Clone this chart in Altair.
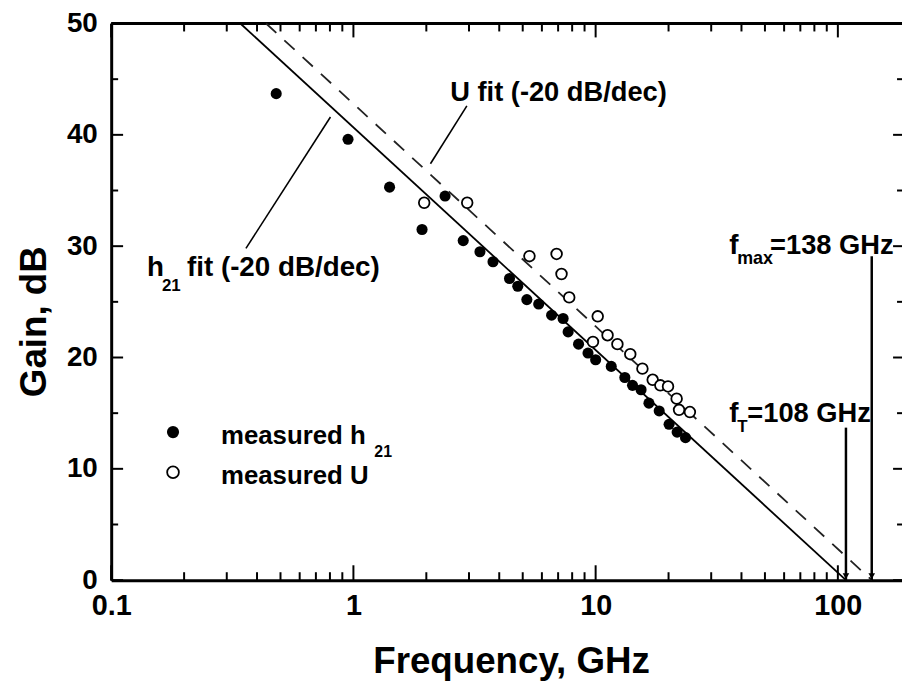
import altair as alt
import pandas as pd

# ---------------- data ----------------
h21_freq = [0.48, 0.95, 1.41, 1.92, 2.39, 2.84, 3.33, 3.77, 4.41, 4.77, 5.2, 5.82,
            6.58, 7.34, 7.7, 8.5, 9.3, 10.0, 11.6, 13.2, 14.2, 15.4, 16.6, 18.3,
            20.1, 21.7, 23.5]
h21_gain = [43.7, 39.6, 35.3, 31.5, 34.5, 30.5, 29.5, 28.6, 27.1, 26.4, 25.2, 24.8,
            23.8, 23.5, 22.3, 21.2, 20.4, 19.8, 19.2, 18.2, 17.5, 17.1, 15.9, 15.2,
            14.0, 13.3, 12.8]

u_freq = [1.96, 2.95, 5.33, 6.9, 7.23, 7.78, 9.75, 10.2, 11.2, 12.3, 13.9, 15.6,
          17.2, 18.5, 19.9, 21.6, 22.1, 24.5]
u_gain = [33.9, 33.9, 29.1, 29.3, 27.5, 25.4, 21.4, 23.7, 22.0, 21.2, 20.3, 19.0,
          18.0, 17.5, 17.4, 16.3, 15.3, 15.1]

# -20 dB/dec fits (end points)
h21_fit_freq = [0.3415, 108]
h21_fit_gain = [50, 0]
u_fit_freq = [0.436, 138]
u_fit_gain = [50, 0]

# fT / fmax arrows
arrow_freq = [108, 138]
arrow_top = [13.7, 29.1]

# axis ticks
x_major = [0.1, 1, 10, 100]
x_minor = [m * d for d in (0.1, 1, 10) for m in range(2, 10)]
y_major = [0, 10, 20, 30, 40, 50]
y_minor = [5, 15, 25, 35, 45]

# ---------------- layout ----------------
W, H = 797, 561
FONT = "Liberation Sans"
XDOM = [0.1, 184]
xs = alt.Scale(type="log", domain=XDOM, nice=False)
ys = alt.Scale(domain=[0, 50], nice=False, zero=False)

def X(field="f", **kw):
    return alt.X(f"{field}:Q", scale=xs, **kw)

def Y(field="g", **kw):
    return alt.Y(f"{field}:Q", scale=ys, **kw)

x_axis = alt.Axis(values=x_major, labelExpr="datum.value < 1 ? '0.1' : format(datum.value, 'd')",
                  ticks=False, grid=False, domainWidth=3, domainColor="black",
                  labelFont=FONT, labelFontWeight="bold", labelFontSize=29, labelColor="black",
                  labelPadding=12, labelFlush=False, labelOverlap=False,
                  titleFont=FONT, titleFontWeight="bold",
                  titleFontSize=37, titleColor="black", titleX=403, titleY=93,
                  titleBaseline="alphabetic")
y_axis = alt.Axis(values=y_major, ticks=False, grid=False, domainWidth=3, domainColor="black",
                  labelFont=FONT, labelFontWeight="bold", labelFontSize=28, labelColor="black",
                  labelPadding=14, labelFlush=False, labelOverlap=False,
                  titleFont=FONT, titleFontWeight="bold",
                  titleFontSize=37, titleColor="black", titleX=-77, titleY=300,
                  titleBaseline="middle", titleAngle=270)

df_h21 = pd.DataFrame({"f": h21_freq, "g": h21_gain})
df_u = pd.DataFrame({"f": u_freq, "g": u_gain})
df_h21_fit = pd.DataFrame({"f": h21_fit_freq, "g": h21_fit_gain})
df_u_fit = pd.DataFrame({"f": u_fit_freq, "g": u_fit_gain})
df_arrow = pd.DataFrame({"f": arrow_freq, "top": arrow_top, "g": [0, 0]})

# measured points (this layer carries the axes)
h21_pts = alt.Chart(df_h21).mark_circle(color="black", size=125, opacity=1).encode(
    x=X(axis=x_axis, title="Frequency, GHz"), y=Y(axis=y_axis, title="Gain, dB"))
u_pts = alt.Chart(df_u).mark_point(shape="circle", filled=True, fill="white", stroke="black",
                                   strokeWidth=1.8, size=115, opacity=1).encode(x=X(), y=Y())

# fit lines
h21_fit = alt.Chart(df_h21_fit).mark_line(color="black", strokeWidth=1.8).encode(x=X(), y=Y())
u_fit = alt.Chart(df_u_fit).mark_line(color="#222222", strokeWidth=1.8, strokeDash=[14, 11]).encode(x=X(), y=Y())

# arrows
arrow_lines = alt.Chart(df_arrow).mark_rule(color="black", strokeWidth=2.5).encode(
    x=X(), y=Y("top"), y2="g:Q")
arrow_heads = alt.Chart(df_arrow).mark_point(shape="triangle-down", filled=True, color="black",
                                             size=45, opacity=1, yOffset=-4).encode(x=X(), y=Y())

# leader lines for the fit labels
lead_df = pd.DataFrame({"f": [2.94, 0.804], "g": [42.6, 41.6], "f2": [2.08, 0.36], "g2": [37.4, 29.8]})
leaders = alt.Chart(lead_df).mark_rule(color="black", strokeWidth=1.6).encode(
    x=X(), y=Y(), x2="f2:Q", y2="g2:Q")

# texts
txt_reg = pd.DataFrame({
    "f": [2.51, 0.1406, 0.162, 0.2055, 35.6, 38.4, 52.5, 35.6, 38.4, 42.3],
    "g": [43.0, 27.3, 26.0, 27.3, 29.3, 28.4, 29.3, 14.2, 13.3, 14.2],
    "t": ["U fit (-20 dB/dec)", "h", "21", "fit (-20 dB/dec)", "f", "max", "=138 GHz",
          "f", "T", "=108 GHz"],
    "s": [27.5, 28, 17, 28, 28, 18, 27.5, 28, 17, 27.5],
})
texts = alt.Chart(txt_reg).mark_text(align="left", baseline="alphabetic", font=FONT,
                                     fontWeight="bold", color="black").encode(
    x=X(), y=Y(), text="t:N", size=alt.Size("s:Q", scale=None, legend=None))

# legend (manual)
leg_filled = alt.Chart(pd.DataFrame({"f": [0.18], "g": [13.3]})).mark_circle(
    color="black", size=150, opacity=1).encode(x=X(), y=Y())
leg_open = alt.Chart(pd.DataFrame({"f": [0.18], "g": [9.7]})).mark_point(
    shape="circle", filled=True, fill="white", stroke="black", strokeWidth=1.8, size=140,
    opacity=1).encode(x=X(), y=Y())
leg_txt = pd.DataFrame({"f": [0.284, 1.22, 0.284], "g": [12.2, 11.1, 8.6],
                        "t": ["measured h", "21", "measured U"], "s": [26, 16, 26]})
leg_texts = alt.Chart(leg_txt).mark_text(align="left", baseline="alphabetic", font=FONT,
                                         fontWeight="bold", color="black").encode(
    x=X(), y=Y(), text="t:N", size=alt.Size("s:Q", scale=None, legend=None))

# inward ticks
def xticks(vals, top, length):
    d = pd.DataFrame({"f": vals})
    if top:
        return alt.Chart(d).mark_rule(color="black", strokeWidth=2).encode(
            x=X(), y=alt.value(0), y2=alt.value(length))
    return alt.Chart(d).mark_rule(color="black", strokeWidth=2).encode(
        x=X(), y=alt.value(H), y2=alt.value(H - length))

def yticks(vals, right, length):
    d = pd.DataFrame({"g": vals})
    if right:
        return alt.Chart(d).mark_rule(color="black", strokeWidth=2).encode(
            y=Y(), x=alt.value(W), x2=alt.value(W - length))
    return alt.Chart(d).mark_rule(color="black", strokeWidth=2).encode(
        y=Y(), x=alt.value(0), x2=alt.value(length))

tick_layers = [
    xticks(x_major, False, 15), xticks(x_minor, False, 8),
    xticks(x_major, True, 14), xticks(x_minor, True, 8),
    yticks(y_major, False, 12), yticks(y_minor, False, 7),
    yticks(y_major, True, 9), yticks(y_minor, True, 5),
]

top_border = alt.Chart(pd.DataFrame({"g": [50]})).mark_rule(color="black", strokeWidth=3).encode(
    x=alt.value(0), x2=alt.value(W), y=alt.value(0))

chart = alt.layer(
    h21_pts, *tick_layers, top_border, h21_fit, u_fit, leaders, arrow_lines, arrow_heads,
    u_pts, texts, leg_filled, leg_open, leg_texts,
).properties(
    width=W, height=H,
    autosize=alt.AutoSizeParams(type="none"),
    padding={"left": 104, "top": 13, "right": 0, "bottom": 100},
).configure_view(stroke=None).configure(background="white")

chart.save("out.html", embed_options={"renderer": "svg", "actions": False})
